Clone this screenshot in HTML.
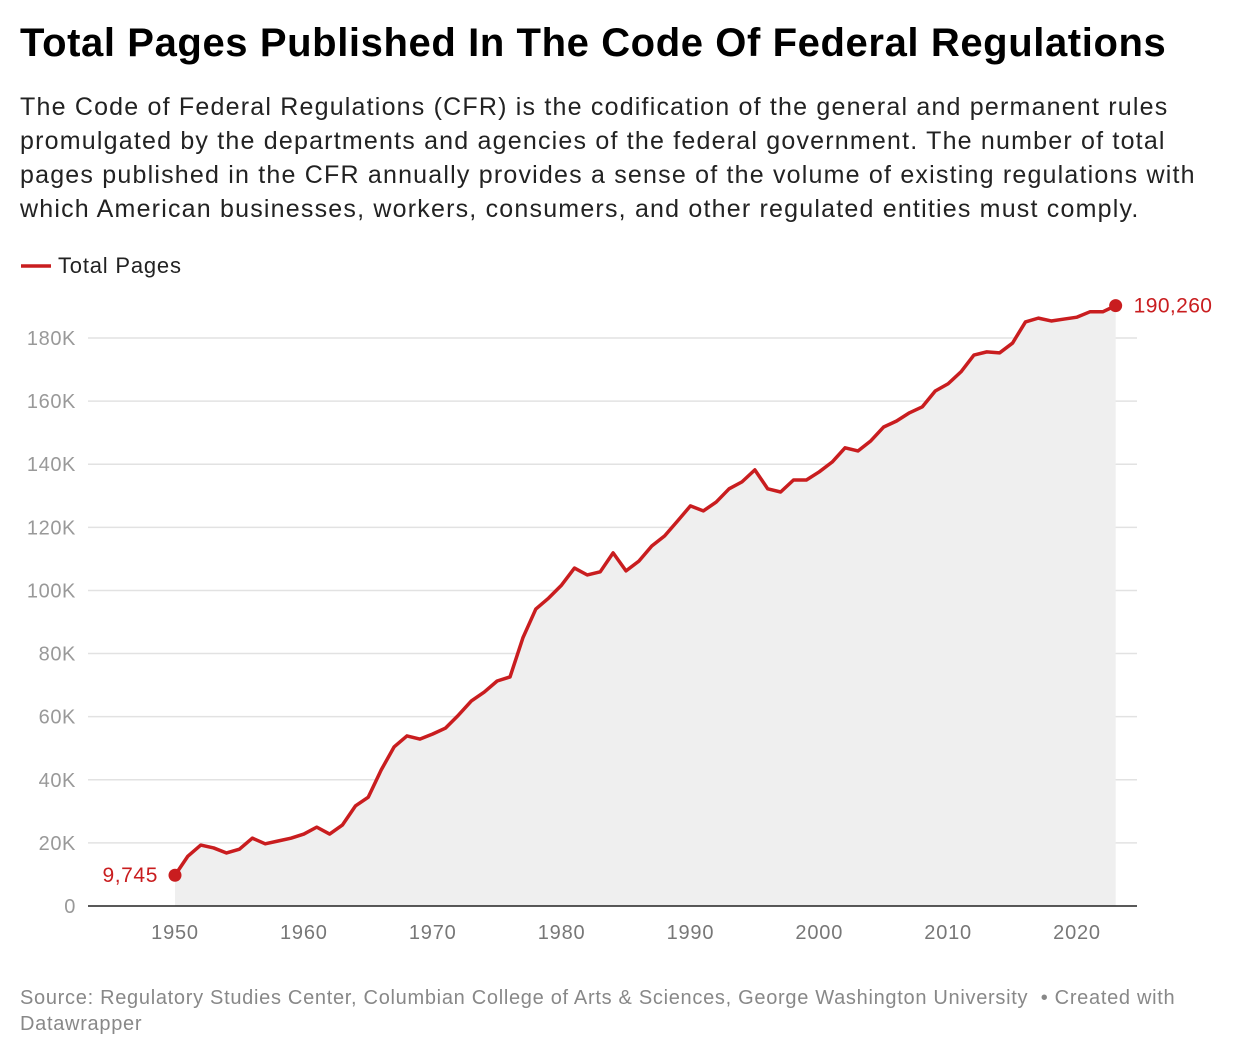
<!DOCTYPE html>
<html><head><meta charset="utf-8"><style>
body{margin:0;width:1240px;height:1058px;background:#fff;font-family:"Liberation Sans",sans-serif;position:relative;overflow:hidden}
#title{position:absolute;left:20px;top:21px;font-size:40px;font-weight:bold;color:#000;letter-spacing:0.6px;margin:0;white-space:nowrap}
#sub{position:absolute;left:20px;top:90px;width:1220px;font-size:25px;line-height:34px;color:#222;letter-spacing:1.2px;white-space:nowrap}
#foot{position:absolute;left:20px;top:985px;width:1220px;font-size:20px;line-height:26px;color:#888;letter-spacing:0.7px;white-space:nowrap}
svg{position:absolute;left:0;top:0}
</style></head><body>
<h1 id="title">Total Pages Published In The Code Of Federal Regulations</h1>
<div id="sub">The Code of Federal Regulations (CFR) is the codification of the general and permanent rules<br>promulgated by the departments and agencies of the federal government. The number of total<br>pages published in the CFR annually provides a sense of the volume of existing regulations with<br>which American businesses, workers, consumers, and other regulated entities must comply.</div>
<svg id="chart" width="1240" height="1058"></svg>
<div id="foot">Source: Regulatory Studies Center, Columbian College of Arts &amp; Sciences, George Washington University &nbsp;• Created with<br>Datawrapper</div>
<script>
const years=[];for(let y=1950;y<=2023;y++)years.push(y);
const pages=[9745,15800,19300,18400,16800,18000,21500,19700,20600,21500,22800,25000,22800,25700,31700,34500,43100,50400,53900,52900,54500,56400,60500,65000,67800,71300,72600,85000,94100,97600,101700,107100,104900,105900,111900,106200,109300,114100,117300,122000,126800,125200,128000,132200,134400,138200,132200,131200,135000,135000,137600,140700,145200,144200,147400,151800,153700,156300,158200,163200,165500,169300,174600,175600,175300,178400,185100,186300,185400,186000,186600,188300,188300,190260];
const yTicks=[0,20000,40000,60000,80000,100000,120000,140000,160000,180000];
const yTickLabels=["0","20K","40K","60K","80K","100K","120K","140K","160K","180K"];
const xTicks=[1950,1960,1970,1980,1990,2000,2010,2020];
const NS="http://www.w3.org/2000/svg";
const svg=document.getElementById('chart');
const X=v=>175+(v-1950)*(1077-175)/70;
const Y=v=>906-v*(906-338)/180000;
function el(t,a,p){const e=document.createElementNS(NS,t);for(const k in a)e.setAttribute(k,a[k]);(p||svg).appendChild(e);return e;}
yTicks.forEach((t,i)=>{
 if(t>0){const g=el('line',{x1:88,x2:1137,y1:Y(t),y2:Y(t),stroke:'#e2e2e2','stroke-width':1.5});
 
 }
 const l=el('text',{x:76,y:Y(t)+7,'text-anchor':'end','font-size':20,'letter-spacing':0.6,fill:'#999','font-family':'Liberation Sans, sans-serif'});
 
 
 l.textContent=yTickLabels[i];
});
let d='M'+X(years[0])+','+Y(0);
years.forEach((y,i)=>d+=' L'+X(y)+','+Y(pages[i]));
d+=' L'+X(years[years.length-1])+','+Y(0)+'Z';
const area=el('path',{d:d,fill:'#efefef'});


const ax=el('line',{x1:88,x2:1137,y1:906,y2:906,stroke:'#222','stroke-width':1.5});


xTicks.forEach(t=>{
 const l=el('text',{x:X(t),y:939,'text-anchor':'middle','font-size':20,'letter-spacing':0.8,fill:'#777','font-family':'Liberation Sans, sans-serif'});
 
 
 l.textContent=t;
});
const line=el('polyline',{points:years.map((y,i)=>X(y)+','+Y(pages[i])).join(' '),fill:'none',stroke:'#c91d1f','stroke-width':3.5,'stroke-linejoin':'round'});


const n=years.length-1;
const d1=el('circle',{cx:X(years[0]),cy:Y(pages[0]),r:6.5,fill:'#c91d1f'});


const d2=el('circle',{cx:X(years[n]),cy:Y(pages[n]),r:6.5,fill:'#c91d1f'});


const l1=el('text',{x:X(years[0])-17,y:Y(pages[0])+7,'text-anchor':'end','font-size':21,'letter-spacing':0.6,fill:'#c91d1f','font-family':'Liberation Sans, sans-serif'});


l1.textContent=pages[0].toLocaleString('en-US');
const l2=el('text',{x:X(years[n])+18,y:Y(pages[n])+7,'font-size':21,'letter-spacing':0.4,fill:'#c91d1f','font-family':'Liberation Sans, sans-serif'});


l2.textContent=pages[n].toLocaleString('en-US');
const lg=el('line',{x1:21,x2:51,y1:266,y2:266,stroke:'#c91d1f','stroke-width':3.5});


const lt=el('text',{x:58,y:273,'font-size':22,'letter-spacing':0.8,fill:'#222','font-family':'Liberation Sans, sans-serif'});


lt.textContent='Total Pages';
</script>
</body></html>
